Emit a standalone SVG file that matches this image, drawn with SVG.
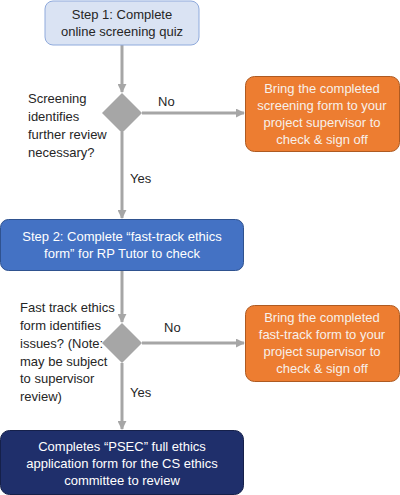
<svg xmlns="http://www.w3.org/2000/svg" width="400" height="495" viewBox="0 0 400 495">
<style>
.t{font-family:"Liberation Sans",Arial,sans-serif;font-size:13px}
.c{text-anchor:middle}
.dk{fill:#262626}
.wh{fill:#ffffff}
.or{fill:#f7f0ea}
.ln{stroke:#a6a6a6;stroke-width:3;fill:none}
.dm{fill:#a6a6a6}
</style>
<defs>
<marker id="ah" viewBox="0 0 10 10" refX="9" refY="5" markerWidth="3" markerHeight="3" orient="auto" markerUnits="strokeWidth">
<path d="M0,0 L10,5 L0,10 z" fill="#a6a6a6"/>
</marker>
</defs>
<g id="connectors">
<line class="ln" x1="122" y1="45" x2="122" y2="92" marker-end="url(#ah)"/>
<line class="ln" x1="142" y1="113" x2="244" y2="113" marker-end="url(#ah)"/>
<line class="ln" x1="122" y1="132" x2="122" y2="218" marker-end="url(#ah)"/>
<line class="ln" x1="122" y1="271" x2="122" y2="322" marker-end="url(#ah)"/>
<line class="ln" x1="142" y1="343" x2="244" y2="343" marker-end="url(#ah)"/>
<line class="ln" x1="122" y1="363" x2="122" y2="429" marker-end="url(#ah)"/>
<text class="t dk" x="158" y="106">No</text>
<text class="t dk" x="130" y="183">Yes</text>
<text class="t dk" x="164" y="332">No</text>
<text class="t dk" x="130" y="397">Yes</text>
</g>
<g id="step1">
<rect x="45" y="1" width="154" height="44" rx="8" fill="#dae3f3" stroke="#8faadc" stroke-width="1"/>
<text class="t c dk" x="122" y="19">Step 1: Complete</text>
<text class="t c dk" x="122" y="36">online screening quiz</text>
</g>
<g id="decision1">
<polygon class="dm" points="122,93 142,113 122,133 102,113"/>
<text class="t dk" x="28" y="103">Screening</text>
<text class="t dk" x="28" y="121">identifies</text>
<text class="t dk" x="28" y="139">further review</text>
<text class="t dk" x="28" y="157">necessary?</text>
</g>
<g id="signoff1">
<rect x="245.5" y="76.5" width="154" height="75" rx="9" fill="#ed7d31" stroke="#ae5a21" stroke-width="1"/>
<text class="t c or" x="322" y="93">Bring the completed</text>
<text class="t c or" x="322" y="110">screening form to your</text>
<text class="t c or" x="322" y="127">project supervisor to</text>
<text class="t c or" x="322" y="144">check &amp; sign off</text>
</g>
<g id="step2">
<rect x="0.5" y="219.5" width="243" height="51" rx="8" fill="#4472c4" stroke="#2f528f" stroke-width="1"/>
<text class="t c wh" x="122" y="241">Step 2: Complete “fast-track ethics</text>
<text class="t c wh" x="122" y="258">form” for RP Tutor to check</text>
</g>
<g id="decision2">
<polygon class="dm" points="122,323 142,343 122,363 102,343"/>
<text class="t dk" x="20" y="312">Fast track ethics</text>
<text class="t dk" x="20" y="330">form identifies</text>
<text class="t dk" x="20" y="348">issues? (Note:</text>
<text class="t dk" x="20" y="366">may be subject</text>
<text class="t dk" x="20" y="383">to supervisor</text>
<text class="t dk" x="20" y="401">review)</text>
</g>
<g id="signoff2">
<rect x="245.5" y="305.5" width="154" height="76" rx="9" fill="#ed7d31" stroke="#ae5a21" stroke-width="1"/>
<text class="t c or" x="322" y="322">Bring the completed</text>
<text class="t c or" x="322" y="339">fast-track form to your</text>
<text class="t c or" x="322" y="356">project supervisor to</text>
<text class="t c or" x="322" y="373">check &amp; sign off</text>
</g>
<g id="psec">
<rect x="0.5" y="430.5" width="243" height="64" rx="9" fill="#1f2f6b" stroke="#15204a" stroke-width="1"/>
<text class="t c wh" x="122" y="451">Completes “PSEC” full ethics</text>
<text class="t c wh" x="122" y="468">application form for the CS ethics</text>
<text class="t c wh" x="122" y="485">committee to review</text>
</g>
</svg>
